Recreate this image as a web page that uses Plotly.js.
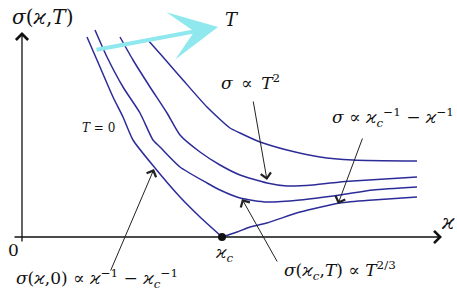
<!DOCTYPE html>
<html><head><meta charset="utf-8">
<script src="https://cdn.plot.ly/plotly-3.0.1.min.js"></script>
<style>html,body{margin:0;padding:0;background:#fff;}#chart{width:457px;height:292px;}</style>
</head><body><div id="chart"></div>
<script>
// Schematic curves sigma(kappa, T) (x: kappa, y: sigma; origin at axes crossing)
const xT0left = [65, 78, 91, 101, 111, 133, 158, 178, 200];
const yT0left = [200, 170, 140, 120, 97, 69, 40, 20, 0];
const xT0right = [200, 215, 228, 245, 278, 318, 351, 395];
const yT0right = [0, 5, 10, 14, 25, 34, 37, 40];
const xT1 = [73, 85, 101, 118, 131, 138, 158, 185, 198, 218, 245, 278, 318, 351, 395];
const yT1 = [207, 180, 150, 124, 97, 90, 70, 54, 47, 39, 35, 37, 42, 47, 50];
const xT2 = [98, 111, 128, 145, 158, 178, 198, 218, 245, 265, 291, 318, 331, 395];
const yT2 = [200, 177, 150, 124, 102, 85, 72, 62, 54, 51, 52, 55, 56, 60];
const xT3 = [125, 141, 161, 185, 208, 218, 238, 265, 298, 331, 395];
const yT3 = [198, 180, 157, 130, 109, 104, 95, 87, 80, 77, 76];
const kcX = [200];
const kcY = [0];

const blue = '#2c2c99';
const F = '"DejaVu Serif", serif';
function curve(x, y) {
  return {x: x, y: y, type: 'scatter', mode: 'lines', line: {color: blue, width: 1.5, shape: 'spline', smoothing: 0.6}, hoverinfo: 'skip'};
}
const data = [curve(xT0left, yT0left), curve(xT0right, yT0right), curve(xT1, yT1), curve(xT2, yT2), curve(xT3, yT3),
  {x: kcX, y: kcY, type: 'scatter', mode: 'markers', marker: {color: '#111', size: 8}}];

function label(x, y, text, size) {
  return {x: x, y: y, xref: 'x', yref: 'y', text: text, showarrow: false, font: {family: F, size: size, color: '#111'}};
}
function arrow(x, y, ax, ay, color, width, head, size) {
  return {x: x, y: y, ax: ax, ay: ay, xref: 'x', yref: 'y', axref: 'x', ayref: 'y', text: '', showarrow: true,
    arrowcolor: color, arrowwidth: width, arrowhead: head, arrowsize: size, standoff: 0, startstandoff: 0};
}
const k = '<i>ϰ</i>';
const annotations = [
  arrow(420, 0, -9, 0, '#111', 1.3, 4, 1.8),
  arrow(0, 205, 0, -6, '#111', 1.3, 4, 1.8),
  arrow(196, 210, 73, 187, '#8ee8ee', 4, 3, 2),
  arrow(245, 57, 231, 137, '#222', 1, 4, 2),
  arrow(316, 33, 341, 100, '#222', 1, 4, 2),
  arrow(132, 68, 88, -35, '#222', 1, 4, 2),
  arrow(220, 38, 256, -26, '#222', 1, 4, 2),
  label(20, 220, '<i>σ</i>(' + k + ',<i>T</i>)', 20),
  label(210, 218, '<i>T</i>', 18),
  label(228, 155, '<i>σ</i>\u2002∝\u2002<i>T</i><sup>2</sup>', 17),
  label(371, 120, '<i>σ</i> ∝ ' + k + '<sub><i>c</i></sub><sup>−1</sup> − ' + k + '<sup>−1</sup>', 17),
  label(76, 109, '<i>T</i> = 0', 12),
  label(75, -41, '<i>σ</i>(' + k + ',0) ∝ ' + k + '<sup>−1</sup> − ' + k + '<sub><i>c</i></sub><sup>−1</sup>', 17),
  label(318, -33, '<i>σ</i>(' + k + '<sub><i>c</i></sub>,<i>T</i>) ∝ <i>T</i><sup>2/3</sup>', 17),
  label(426, 15, k, 20),
  label(-9, -13, '0', 17),
  label(202, -16, k + '<sub><i>c</i></sub>', 17)
];

const layout = {
  width: 457, height: 292,
  margin: {l: 0, r: 0, t: 0, b: 0},
  paper_bgcolor: '#fff', plot_bgcolor: '#fff',
  showlegend: false,
  xaxis: {range: [-22, 435], visible: false, fixedrange: true},
  yaxis: {range: [-55, 237], visible: false, fixedrange: true},
  annotations: annotations
};
Plotly.newPlot('chart', data, layout, {staticPlot: true, displayModeBar: false});
</script></body></html>
